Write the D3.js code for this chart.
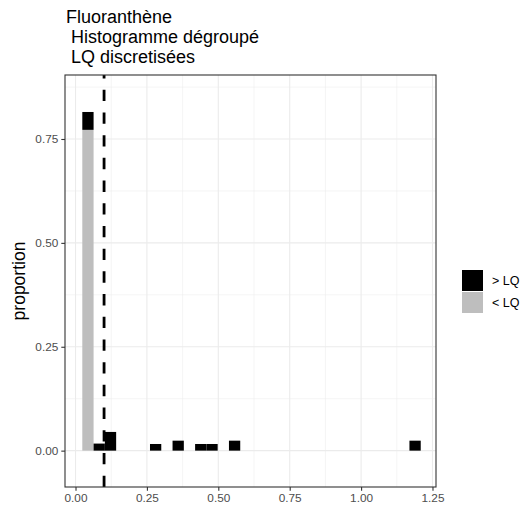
<!DOCTYPE html>
<html><head><meta charset="utf-8">
<script src="https://cdn.jsdelivr.net/npm/d3@7"></script>
<style>body{margin:0;background:#fff}svg{display:block}text{font-family:"Liberation Sans",Arial,sans-serif}</style>
</head><body><svg id="c" width="532" height="511"></svg>
<script>
const titleLines = ["Fluoranthène", " Histogramme dégroupé", " LQ discretisées"];
const binStart = [0.0238, 0.0633, 0.1028, 0.2608, 0.3398, 0.4188, 0.4583, 0.5373, 1.1693];
const binWidth = 0.0395;
const belowLQ = [0.772, 0, 0, 0, 0, 0, 0, 0, 0];
const aboveLQ = [0.043, 0.017, 0.045, 0.016, 0.024, 0.016, 0.016, 0.024, 0.024];
const seriesNames = ["> LQ", "< LQ"];
const seriesColors = ["#000000", "#bebebe"];
const xTicks = [0, 0.25, 0.5, 0.75, 1.0, 1.25];
const yTicks = [0, 0.25, 0.5, 0.75];
const lqLine = 0.1;

const svg = d3.select("#c");
const L = 65, R = 436, T = 75, B = 487;
const x = d3.scaleLinear().domain([-0.0368, 1.2623]).range([L, R]);
const y = d3.scaleLinear().domain([-0.0875, 0.904]).range([B, T]);

// title
const t = svg.append("text").attr("x", 66).attr("y", 23).attr("font-size", 18).attr("fill", "#000").attr("xml:space", "preserve").style("white-space", "pre");
titleLines.forEach((s, i) => t.append("tspan").attr("x", 66).attr("y", 23 + i * 20).text(s));

// grid
const g = svg.append("g");
const xMinor = d3.range(0.125, 1.26, 0.25);
const yMinor = d3.range(0.125, 0.9, 0.25);
g.selectAll(".xm").data(xMinor).join("line").attr("x1", d => x(d)).attr("x2", d => x(d)).attr("y1", T).attr("y2", B).attr("stroke", "#ebebeb").attr("stroke-width", 0.55);
g.selectAll(".ym").data(yMinor).join("line").attr("y1", d => y(d)).attr("y2", d => y(d)).attr("x1", L).attr("x2", R).attr("stroke", "#ebebeb").attr("stroke-width", 0.55);
g.selectAll(".xM").data(xTicks).join("line").attr("x1", d => x(d)).attr("x2", d => x(d)).attr("y1", T).attr("y2", B).attr("stroke", "#ebebeb").attr("stroke-width", 1.1);
g.selectAll(".yM").data(yTicks).join("line").attr("y1", d => y(d)).attr("y2", d => y(d)).attr("x1", L).attr("x2", R).attr("stroke", "#ebebeb").attr("stroke-width", 1.1);

// bars
const bars = binStart.map((s, i) => ({ s, below: belowLQ[i], above: aboveLQ[i] }));
svg.append("g").selectAll("rect").data(bars.filter(d => d.below > 0)).join("rect")
  .attr("x", d => x(d.s)).attr("width", d => x(d.s + binWidth) - x(d.s))
  .attr("y", d => y(d.below)).attr("height", d => y(0) - y(d.below)).attr("fill", seriesColors[1]);
svg.append("g").selectAll("rect").data(bars.filter(d => d.above > 0)).join("rect")
  .attr("x", d => x(d.s)).attr("width", d => x(d.s + binWidth) - x(d.s))
  .attr("y", d => y(d.below + d.above)).attr("height", d => y(d.below) - y(d.below + d.above)).attr("fill", seriesColors[0]);

// dashed LQ line (drawn bottom to top)
svg.append("line").attr("x1", x(lqLine)).attr("x2", x(lqLine)).attr("y1", B).attr("y2", T)
  .attr("stroke", "#000").attr("stroke-width", 2.8).attr("stroke-dasharray", "11.35,11.35");

// border
svg.append("rect").attr("x", L).attr("y", T).attr("width", R - L).attr("height", B - T).attr("fill", "none").attr("stroke", "#333333").attr("stroke-width", 1.1);

// axes
const xa = svg.append("g").attr("transform", `translate(0,${B})`)
  .call(d3.axisBottom(x).tickValues(xTicks).tickFormat(d3.format(".2f")).tickSize(3.7).tickPadding(3));
const ya = svg.append("g").attr("transform", `translate(${L},0)`)
  .call(d3.axisLeft(y).tickValues(yTicks).tickFormat(d3.format(".2f")).tickSize(3.7).tickPadding(3));
[xa, ya].forEach(a => {
  a.select(".domain").remove();
  a.selectAll("line").attr("stroke", "#333333").attr("stroke-width", 1.1);
  a.selectAll("text").attr("fill", "#4d4d4d").attr("font-size", 11.8).attr("font-family", "Liberation Sans, Arial, sans-serif");
});

// y title
svg.append("text").attr("transform", `translate(25,${(T + B) / 2}) rotate(-90)`).attr("text-anchor", "middle")
  .attr("font-size", 17.5).attr("fill", "#000").text("proportion");

// legend
const lg = svg.append("g");
seriesNames.forEach((n, i) => {
  lg.append("rect").attr("x", 462).attr("y", 270 + i * 22).attr("width", 21).attr("height", 21).attr("fill", seriesColors[i]);
  lg.append("text").attr("x", 492).attr("y", 281 + i * 22).attr("dy", "0.35em").attr("font-size", 12.5).attr("fill", "#000").text(n);
});
</script></body></html>
